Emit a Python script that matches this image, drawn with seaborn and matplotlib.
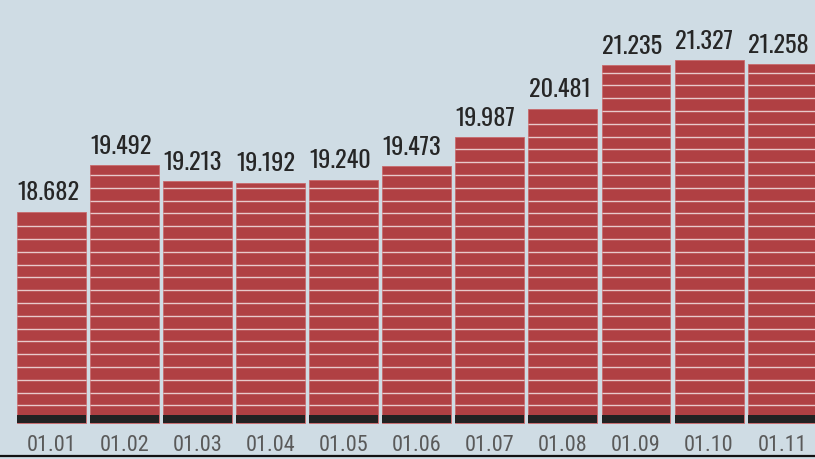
import matplotlib
matplotlib.use("Agg")
import matplotlib.pyplot as plt
import seaborn as sns
import numpy as np
import pandas as pd

months = ["01.01", "01.02", "01.03", "01.04", "01.05", "01.06",
          "01.07", "01.08", "01.09", "01.10", "01.11"]
values = [18.682, 19.492, 19.213, 19.192, 19.240, 19.473,
          19.987, 20.481, 21.235, 21.327, 21.258]

BG = "#cfdce4"
RED = "#b04043"
BASE = 15.0

sns.set_theme(style="white")
COND = ["Oswald", "Barlow Condensed", "Roboto Condensed", "IBM Plex Sans Condensed",
        "Archivo Narrow", "DejaVu Sans"]
TICKF = ["Roboto Condensed", "Barlow Condensed", "IBM Plex Sans Condensed",
         "Archivo Narrow", "DejaVu Sans"]
plt.rcParams["font.family"] = COND

fig = plt.figure(figsize=(8.15, 4.59), dpi=100, facecolor=BG)
ax = fig.add_axes([0, 3 / 459, 1, 456 / 459])
ax.set_facecolor(BG)

df = pd.DataFrame({"month": months, "value": np.array(values) - BASE})
sns.barplot(data=df, x="month", y="value", color=RED, saturation=1,
            width=0.944, bottom=BASE, edgecolor="#c86a6c", linewidth=0.6, ax=ax)

ax.set_xlim(-0.705, 10.45)
ax.set_ylim(14.418, 22.378)

band_h = 0.134
stripe_start = 15.303
stripe_step = 0.2234
for p, v in zip(ax.patches, values):
    x0, w = p.get_x(), p.get_width()
    ax.bar(x0 + w / 2, band_h, width=w, bottom=BASE, color="#222222", linewidth=0, zorder=3)
    ys = np.arange(stripe_start, v - 0.05, stripe_step)
    ax.hlines(ys, x0, x0 + w, colors="white", alpha=0.72, linewidth=1.0, zorder=3)
    ax.text(x0 + 0.005, v + 0.13, f"{v:.3f}", ha="left", va="bottom",
            fontsize=17.5, color="#262626", zorder=4)

ax.set_xlabel("")
ax.set_ylabel("")
ax.set_yticks([])
ax.tick_params(axis="x", length=0, pad=-15, labelsize=16, labelcolor="#5a5a5a")
for lbl in ax.get_xticklabels():
    lbl.set_fontfamily(TICKF)
    lbl.set_fontweight("normal")
for s in ["top", "left", "right"]:
    ax.spines[s].set_visible(False)
ax.spines["bottom"].set_color("#111111")
ax.spines["bottom"].set_linewidth(1.6)

fig.savefig("out.png", dpi=100, facecolor=BG)
